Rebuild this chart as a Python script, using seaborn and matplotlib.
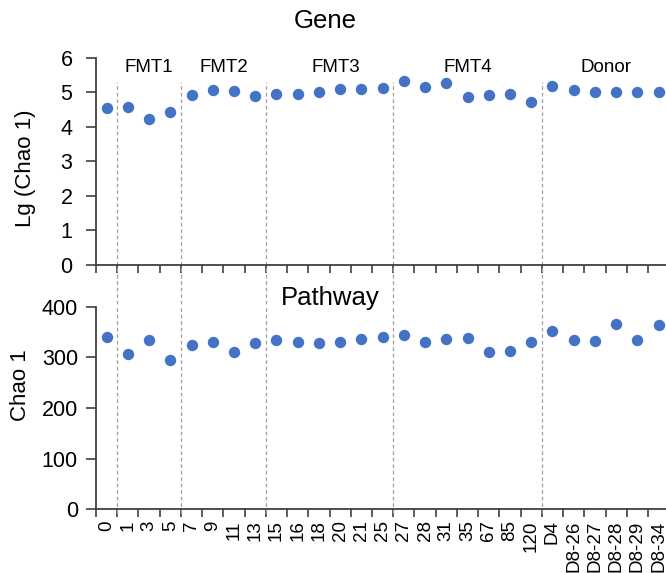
import numpy as np
import pandas as pd
import matplotlib
matplotlib.use("Agg")
import matplotlib.pyplot as plt
import seaborn as sns

# ---- data ----
days = ["0", "1", "3", "5", "7", "9", "11", "13", "15", "16", "18", "20", "21", "25",
        "27", "28", "31", "35", "67", "85", "120", "D4", "D8-26", "D8-27", "D8-28",
        "D8-29", "D8-34"]
groups = ["Pre"] + ["FMT1"] * 3 + ["FMT2"] * 4 + ["FMT3"] * 6 + ["FMT4"] * 7 + ["Donor"] * 6
gene_lg_chao1 = [4.55, 4.57, 4.23, 4.44, 4.92, 5.06, 5.04, 4.89, 4.96, 4.94, 5.00, 5.09,
                 5.09, 5.13, 5.32, 5.15, 5.27, 4.87, 4.92, 4.96, 4.72, 5.17, 5.06, 5.00,
                 5.02, 5.00, 5.02]
pathway_chao1 = [341, 306, 335, 295, 324, 331, 310, 329, 334, 331, 328, 331, 336, 340,
                 345, 331, 336, 339, 311, 312, 330, 352, 334, 333, 365, 334, 364]
group_labels = ["FMT1", "FMT2", "FMT3", "FMT4", "Donor"]
group_label_x = [2.0, 5.5, 10.8, 17.0, 23.5]

df = pd.DataFrame({"day": days, "group": groups,
                   "gene": gene_lg_chao1, "pathway": pathway_chao1})

sns.set_theme(style="ticks")
plt.rcParams["font.family"] = ["Liberation Sans", "DejaVu Sans"]
plt.rcParams["text.color"] = "black"
plt.rcParams["axes.labelcolor"] = "black"
plt.rcParams["xtick.labelcolor"] = "black"
plt.rcParams["ytick.labelcolor"] = "black"

W, H = 666, 573
fig = plt.figure(figsize=(W / 100, H / 100), dpi=100)

left = 96 / W
width = 573.2 / W
ax1 = fig.add_axes([left, (H - 265) / H, width, 207.3 / H])
ax2 = fig.add_axes([left, (H - 509.3) / H, width, 202.6 / H])

blue = "#4472C4"
spine_c = "#404040"
n = len(days)

for ax, col in [(ax1, "gene"), (ax2, "pathway")]:
    sns.stripplot(data=df, x="day", y=col, order=days, jitter=False, color=blue,
                  size=8.2, linewidth=0, ax=ax, zorder=3)
    ax.set_xlim(-0.5, n - 0.5)
    for s in ["top", "right"]:
        ax.spines[s].set_visible(False)
    for s in ["left", "bottom"]:
        ax.spines[s].set_color(spine_c)
        ax.spines[s].set_linewidth(1.3)
    ax.tick_params(axis="y", colors=spine_c, labelcolor="black", length=7, width=1.2,
                   labelsize=15.5)
    # boundary ticks (between categories)
    ax.set_xticks(np.arange(-0.5, n, 1.0), minor=True)
    ax.tick_params(axis="x", which="minor", length=6, width=1.2, color=spine_c)
    ax.tick_params(axis="x", which="major", length=0, labelcolor="black")
    ax.set_xlabel("")

# group boundaries
bounds = [i - 0.5 for i in range(1, n) if groups[i] != groups[i - 1]]
for b in bounds:
    ax1.axvline(b, ymin=-0.25, ymax=(265 - 81.7) / 207.3, color="#a0a0a0", lw=0.9,
                ls=(0, (3, 2.2)), clip_on=False, zorder=1)
    ax2.axvline(b, ymin=-0.02, ymax=1.0, color="#a0a0a0", lw=0.9,
                ls=(0, (3, 2.2)), clip_on=False, zorder=1)

# top panel
ax1.set_ylim(0, 6)
ax1.set_yticks(range(0, 7))
ax1.tick_params(axis="y", pad=10)
ax1.set_xticklabels([])
for lab, xg in zip(group_labels, group_label_x):
    ax1.text(xg, 5.71, lab, ha="center", va="center", fontsize=13.5)
ax1.set_ylabel("Lg (Chao 1)", fontsize=16, va="center")
ax1.yaxis.set_label_coords((26 - 96) / 573.2, (265 - 168) / 207.3)

# bottom panel
ax2.set_ylim(0, 400)
ax2.set_yticks(range(0, 401, 100))
ax2.tick_params(axis="y", pad=6)
ax2.set_xticklabels(days, rotation=90, fontsize=13.5)
ax2.tick_params(axis="x", which="major", pad=8)
ax2.set_ylabel("Chao 1", fontsize=16, va="center")
ax2.yaxis.set_label_coords((20 - 96) / 573.2, (509.3 - 385) / 202.6)

fig.text(325 / W, (H - 28.3) / H, "Gene", ha="center", va="baseline", fontsize=18.5)
fig.text(330 / W, (H - 305) / H, "Pathway", ha="center", va="baseline", fontsize=18.5)

fig.savefig("out.png", dpi=100)
